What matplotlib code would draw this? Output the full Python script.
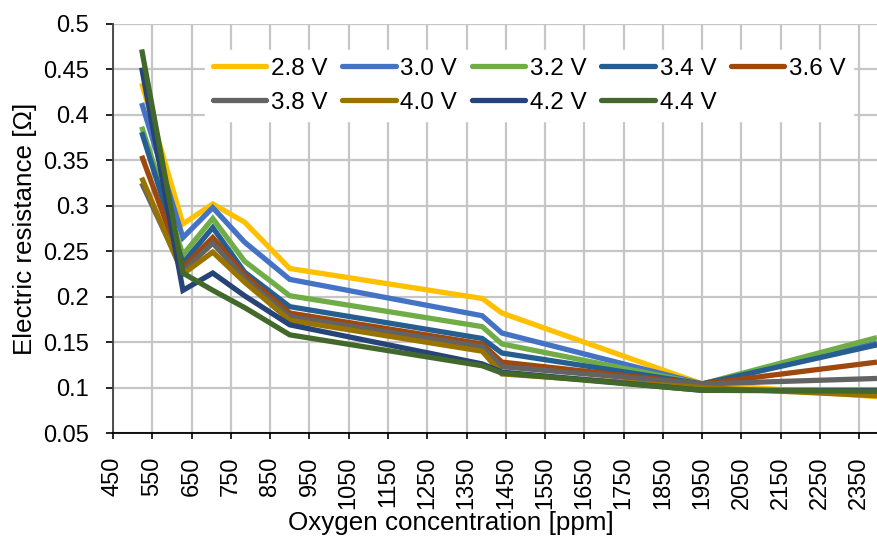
import matplotlib
matplotlib.use("Agg")
import matplotlib.pyplot as plt
import numpy as np

plt.rcParams['font.family'] = ['Liberation Sans', 'DejaVu Sans']

oxygen_ppm = [523, 628, 704, 785, 900, 1390, 1440, 1950, 2395]
series_labels = ["2.8 V", "3.0 V", "3.2 V", "3.4 V", "3.6 V", "3.8 V", "4.0 V", "4.2 V", "4.4 V"]
r_28 = [0.435, 0.280, 0.302, 0.282, 0.231, 0.198, 0.182, 0.104, 0.090]
r_30 = [0.413, 0.265, 0.298, 0.260, 0.219, 0.179, 0.160, 0.104, 0.149]
r_32 = [0.387, 0.246, 0.286, 0.239, 0.201, 0.167, 0.148, 0.104, 0.155]
r_34 = [0.381, 0.237, 0.276, 0.227, 0.189, 0.154, 0.138, 0.104, 0.147]
r_36 = [0.355, 0.232, 0.265, 0.224, 0.182, 0.148, 0.128, 0.104, 0.128]
r_38 = [0.325, 0.228, 0.259, 0.220, 0.178, 0.145, 0.123, 0.104, 0.110]
r_40 = [0.331, 0.225, 0.249, 0.216, 0.174, 0.140, 0.115, 0.100, 0.091]
r_42 = [0.452, 0.207, 0.226, 0.201, 0.169, 0.126, 0.117, 0.097, 0.097]
r_44 = [0.472, 0.226, 0.207, 0.188, 0.158, 0.124, 0.116, 0.097, 0.096]
all_series = [r_28, r_30, r_32, r_34, r_36, r_38, r_40, r_42, r_44]
colors = ["#FFC000", "#4472C4", "#70AD47", "#255E91", "#9E480E",
          "#636363", "#997300", "#264478", "#43682B"]

x_ticks = list(range(450, 2351, 100))
y_ticks = [0.05, 0.1, 0.15, 0.2, 0.25, 0.3, 0.35, 0.4, 0.45, 0.5]
y_tick_labels = ["0.05", "0.1", "0.15", "0.2", "0.25", "0.3", "0.35", "0.4", "0.45", "0.5"]

fig = plt.figure(figsize=(8.77, 5.42), dpi=100)
ax = fig.add_axes([113/877, 109/542, 1 - 113/877, (518-109)/542])

handles = []
for vals, lab, c in zip(all_series, series_labels, colors):
    h, = ax.plot(oxygen_ppm, vals, color=c, lw=3.8, label=lab,
                 solid_joinstyle='miter', solid_capstyle='butt')
    handles.append(h)

ax.set_xlim(450, 2395)
ax.set_ylim(0.05, 0.5)
ax.set_xticks(x_ticks)
ax.set_xticklabels([str(v) for v in x_ticks], rotation=90)
ax.set_yticks(y_ticks)
ax.set_yticklabels(y_tick_labels)
ax.grid(True, color="#C6C6C6", lw=1.6)
ax.set_axisbelow(True)
for s in ["top", "right"]:
    ax.spines[s].set_visible(False)
ax.spines["left"].set_color("#404040")
ax.spines["bottom"].set_color("#000000")
ax.spines["left"].set_linewidth(1.3)
ax.spines["bottom"].set_linewidth(1.3)
ax.tick_params(axis='both', direction='out', labelsize=17, colors='#000000', width=1.2)
ax.tick_params(axis='y', length=5, pad=12.5)
ax.tick_params(axis='x', length=4, pad=13)

ax.set_xlabel("Oxygen concentration [ppm]", fontsize=18.7, labelpad=1)
ax.xaxis.label.set_x((451 - 113) / 764)
ax.set_ylabel("Electric resistance [Ω]", fontsize=18.7, labelpad=4)

order = [0, 5, 1, 6, 2, 7, 3, 8, 4]
leg = ax.legend([handles[i] for i in order], [series_labels[i] for i in order],
                ncol=5, loc='upper left', bbox_to_anchor=(0.105, 0.965),
                fontsize=17.5, frameon=True, fancybox=False, framealpha=1,
                edgecolor='white', handlelength=2.2, handletextpad=0.2,
                columnspacing=0.6, labelspacing=0.5, borderpad=0.3)
for lh in leg.get_lines():
    lh.set_linewidth(3.8)
    lh.set_solid_capstyle('round')

fig.savefig("out.png", dpi=100)
